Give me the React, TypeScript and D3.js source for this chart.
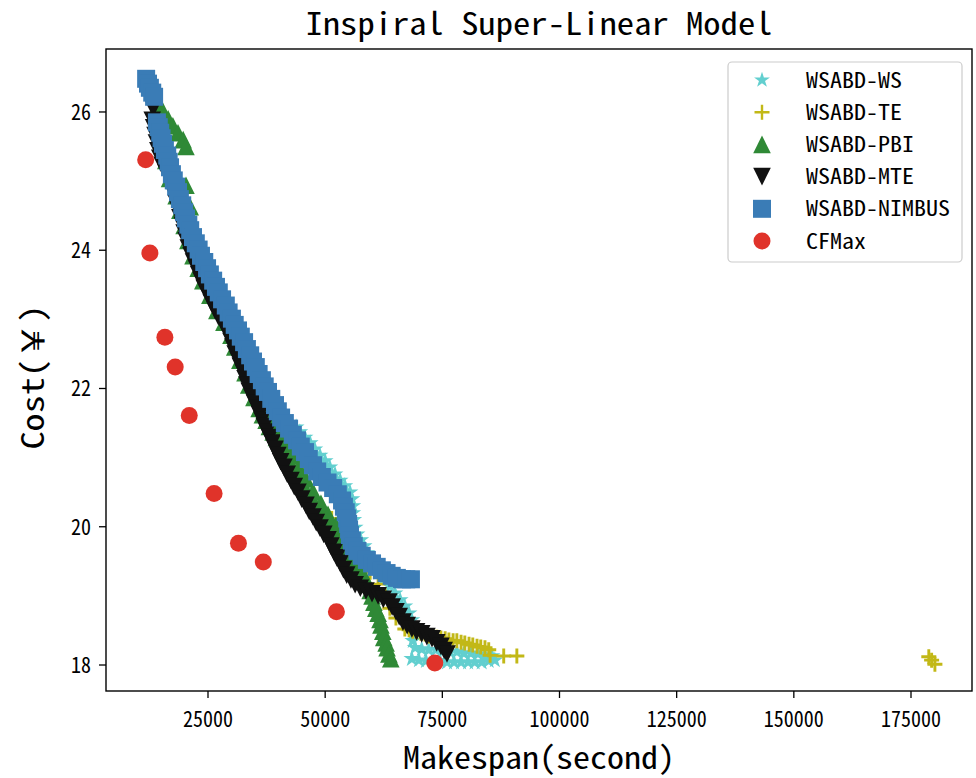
import React from 'react';
import * as d3 from 'd3';

const W = 976;
const H = 778;
const PLOT = { left: 106, right: 972, top: 49, bottom: 691 };

const xDomain: [number, number] = [3236, 188016];
const yDomain: [number, number] = [17.624, 26.911];
const xTicks = [25000, 50000, 75000, 100000, 125000, 150000, 175000];
const yTicks = [18, 20, 22, 24, 26];

const titleText = 'Inspiral Super-Linear Model';
const xLabel = 'Makespan(second)';
const yLabel = 'Cost(￥)';

const seriesNames = ['WSABD-WS', 'WSABD-TE', 'WSABD-PBI', 'WSABD-MTE', 'WSABD-NIMBUS', 'CFMax'];
const seriesColors = ['#62cfcf', '#c2b817', '#2f8936', '#111111', '#3a7cb6', '#e0332a'];

const wsPoints: [number, number][] = [
  [12600, 26.31], [14300, 25.88], [16000, 25.44], [18000, 25.01], [19700, 24.58], [21800, 24.14],
  [24400, 23.71], [27100, 23.27], [29900, 22.84], [32700, 22.41], [35700, 21.97], [38700, 21.61],
  [43800, 21.44], [44600, 21.37], [45700, 21.29], [46800, 21.21], [47800, 21.12], [48900, 21.03],
  [50000, 20.95], [51000, 20.86], [52100, 20.76], [53200, 20.67], [54200, 20.59], [55300, 20.50],
  [55700, 20.40], [55900, 20.30], [55900, 20.20], [56100, 20.10], [56400, 19.99], [56800, 19.89],
  [57600, 19.81], [58300, 19.72], [58900, 19.62], [59600, 19.53], [60200, 19.43], [61300, 19.34],
  [62500, 19.24], [63800, 19.14], [64900, 19.04], [66000, 18.94], [67000, 18.85], [67900, 18.75],
  [68500, 18.65], [68700, 18.55], [68700, 18.45], [68700, 18.35],
  [69200, 18.25], [70600, 18.23], [72100, 18.22], [73600, 18.22], [75100, 18.20], [76600, 18.19],
  [78100, 18.19], [79600, 18.17], [81100, 18.17], [82600, 18.16], [84100, 18.14], [85600, 18.13],
  [68500, 18.09], [70000, 18.07], [71500, 18.06], [73000, 18.06], [74500, 18.06], [76000, 18.04],
  [77500, 18.04], [79000, 18.04], [80500, 18.04], [81900, 18.04], [83400, 18.04], [84900, 18.06],
  [86200, 18.07],
];

const tePoints: [number, number][] = [
  [14100, 25.85], [15400, 25.54], [16900, 25.20], [18600, 24.84], [20300, 24.46], [22400, 24.10],
  [24800, 23.74], [27300, 23.39], [30100, 23.01], [32700, 22.67], [35200, 22.31], [37800, 21.95],
  [40600, 21.58], [44000, 21.25], [47400, 20.89], [51700, 20.56],
  [51400, 20.12], [53600, 19.92], [55700, 19.72], [57800, 19.52], [59600, 19.34], [61300, 19.17],
  [62800, 19.00], [63800, 18.82], [65100, 18.68],
  [67000, 18.52], [67900, 18.51], [68700, 18.49], [69600, 18.48], [70400, 18.46], [71300, 18.45],
  [72100, 18.42], [73000, 18.40], [73800, 18.40], [74700, 18.39], [75600, 18.38], [76400, 18.36],
  [77300, 18.35], [78100, 18.35], [79000, 18.33], [79800, 18.32], [80700, 18.30], [81500, 18.29],
  [82400, 18.27], [83200, 18.26], [84100, 18.25], [84900, 18.22], [85200, 18.14],
  [88100, 18.13], [90900, 18.13],
  [178800, 18.12], [179400, 18.07], [180100, 18.01],
];

const pbiPoints: [number, number][] = [
  [14300, 26.11], [15400, 26.01], [16500, 25.90], [17500, 25.80], [18600, 25.70], [19700, 25.60],
  [20300, 25.50], [20300, 24.94], [21200, 24.63],
  [16000, 25.30], [16800, 25.04], [18200, 24.79], [19000, 24.58], [19900, 24.36], [20700, 24.14],
  [21800, 23.92], [22900, 23.74], [23900, 23.56], [25400, 23.35], [26900, 23.13], [28400, 22.96],
  [29900, 22.77], [30700, 22.60], [31800, 22.41], [32900, 22.23], [33700, 22.05], [34800, 21.87],
  [35900, 21.71], [36600, 21.62], [37400, 21.54], [38100, 21.45], [38900, 21.37], [39600, 21.29],
  [40400, 21.21], [41000, 21.12], [41600, 21.03], [42300, 20.95], [43100, 20.86], [43800, 20.78],
  [44600, 20.69], [45300, 20.60], [46100, 20.51], [46900, 20.43], [47800, 20.34], [48500, 20.26],
  [49300, 20.18], [50100, 20.10], [51000, 20.02], [51700, 19.94], [52500, 19.86], [53300, 19.78],
  [54200, 19.71], [54900, 19.63], [55700, 19.56], [56400, 19.49], [57000, 19.42], [57800, 19.33],
  [58500, 19.26], [59100, 19.17], [59600, 19.08], [60000, 19.00], [60400, 18.91], [60800, 18.82],
  [61300, 18.75], [61700, 18.66], [61900, 18.58], [62300, 18.49], [62500, 18.40], [63000, 18.32],
  [63200, 18.25], [63600, 18.16], [64000, 18.09],
  [37200, 21.71], [38700, 21.54], [40200, 21.37], [41700, 21.21], [42900, 21.03], [44400, 20.86],
  [45900, 20.69], [47400, 20.51], [49100, 20.34], [50600, 20.18], [52300, 20.02], [53800, 19.86],
  [55500, 19.71],
];

const mtePoints: [number, number][] = [
  [13300, 26.05], [13100, 25.88], [13400, 25.77], [13700, 25.66], [14000, 25.55], [14300, 25.44],
  [14700, 25.33], [15200, 25.23], [16000, 25.12], [16900, 25.01], [17300, 24.90], [17800, 24.79],
  [18200, 24.68], [18600, 24.58], [19000, 24.47], [19500, 24.36], [19900, 24.25], [20300, 24.14],
  [20800, 24.03], [21400, 23.92], [21900, 23.83], [22500, 23.74], [23000, 23.65], [23500, 23.56],
  [24200, 23.45], [25000, 23.35], [25700, 23.24], [26500, 23.13], [27200, 23.04], [28000, 22.96],
  [28700, 22.86], [29500, 22.77], [29900, 22.68], [30300, 22.60], [30800, 22.50], [31400, 22.41],
  [31900, 22.32], [32500, 22.23], [32900, 22.14], [33300, 22.05], [33800, 21.96], [34400, 21.87],
  [34900, 21.79], [35500, 21.71], [36000, 21.62], [36500, 21.54], [37000, 21.45], [37600, 21.37],
  [38100, 21.29], [38700, 21.21], [39300, 21.12], [39900, 21.03], [40500, 20.94], [41200, 20.86],
  [41900, 20.76], [42700, 20.67], [43400, 20.58], [44200, 20.50], [45000, 20.40], [45900, 20.31],
  [46600, 20.22], [47400, 20.14], [48100, 20.06], [48900, 19.98], [49700, 19.89], [50600, 19.81],
  [51200, 19.72], [51900, 19.63], [52500, 19.55], [53200, 19.47], [53900, 19.38], [54600, 19.30],
  [55500, 19.23], [56400, 19.16], [57500, 19.11], [58700, 19.07], [60000, 19.03], [61300, 19.00],
  [62400, 18.95], [63600, 18.91], [64300, 18.84], [65100, 18.77], [65800, 18.70], [66600, 18.62],
  [67500, 18.57], [68500, 18.52], [69500, 18.48], [70600, 18.45], [71700, 18.41], [72800, 18.38],
  [73800, 18.32], [74700, 18.27], [75400, 18.21], [76000, 18.16],
];

const nimbusPoints: [number, number][] = [
  [11800, 26.48], [12200, 26.41], [12600, 26.35], [13100, 26.28], [13500, 26.22],
  [14100, 25.85], [14500, 25.78], [14800, 25.70], [15100, 25.62], [15400, 25.54], [15800, 25.45],
  [16300, 25.37], [16600, 25.28], [16900, 25.20], [17300, 25.10], [17700, 25.01], [18200, 24.92],
  [18600, 24.84], [19000, 24.74], [19500, 24.65], [19900, 24.55], [20300, 24.46], [20800, 24.37],
  [21200, 24.29], [21800, 24.19], [22400, 24.10], [23000, 24.01], [23500, 23.92], [24200, 23.83],
  [24800, 23.74], [25400, 23.65], [26100, 23.56], [26700, 23.47], [27300, 23.39], [28000, 23.29],
  [28800, 23.20], [29400, 23.10], [30100, 23.01], [30700, 22.92], [31400, 22.84], [32000, 22.75],
  [32700, 22.67], [33300, 22.57], [34000, 22.48], [34600, 22.39], [35200, 22.31], [35800, 22.21],
  [36500, 22.12], [37100, 22.03], [37800, 21.95], [38500, 21.85], [39300, 21.76], [39900, 21.67],
  [40600, 21.58], [41400, 21.50], [42300, 21.42], [43100, 21.33], [44000, 21.25], [44800, 21.16],
  [45700, 21.08], [46500, 20.98], [47400, 20.89], [48300, 20.80], [49300, 20.72], [50500, 20.64],
  [51700, 20.56], [52700, 20.47], [53600, 20.38], [54000, 20.29], [54400, 20.21], [54700, 20.12],
  [54900, 20.04], [55100, 19.96], [55300, 19.88], [55700, 19.80], [56100, 19.72], [56900, 19.65],
  [57800, 19.58], [58900, 19.52], [60000, 19.47], [61000, 19.42], [62100, 19.37], [63100, 19.33],
  [64200, 19.29], [65300, 19.26], [66400, 19.24], [67300, 19.24], [68300, 19.24],
];

const cfmaxPoints: [number, number][] = [
  [11700, 25.31], [12600, 23.96], [15800, 22.74], [18000, 22.31], [21000, 21.61],
  [26300, 20.48], [31500, 19.76], [36800, 19.49], [52400, 18.77], [73400, 18.03],
];

const FONT = "'Noto Sans Mono CJK SC','Noto Sans CJK SC','Noto Sans',sans-serif";

const starPath = d3.symbol(d3.symbolStar, 78)() as string;
const starPathPlot = d3.symbol(d3.symbolStar, 88)() as string;
const plusPath = 'M-7.5,0H7.5M0,-7.5V7.5';
const triUp = 'M0,-8.8L-8.8,8.8L8.8,8.8Z';
const triDown = 'M0,8.8L-8.8,-8.8L8.8,-8.8Z';
const squarePath = 'M-9,-9H9V9H-9Z';
const circlePath = d3.symbol(d3.symbolCircle, Math.PI * 8.5 * 8.5)() as string;

const markerPaths = [starPath, plusPath, triUp, triDown, squarePath, circlePath];
const allSeries = [wsPoints, tePoints, pbiPoints, mtePoints, nimbusPoints, cfmaxPoints];

function Marker({ idx, x, y, legend }: { idx: number; x: number; y: number; legend?: boolean }) {
  const color = seriesColors[idx];
  if (idx === 1) {
    return (
      <path
        d={plusPath}
        transform={`translate(${x},${y})`}
        fill="none"
        stroke={color}
        strokeWidth={legend ? 2.4 : 2.9}
      />
    );
  }
  const d = idx === 0 && !legend ? starPathPlot : markerPaths[idx];
  return <path d={d} transform={`translate(${x},${y})`} fill={color} stroke="none" />;
}

export default function App() {
  const x = d3.scaleLinear().domain(xDomain).range([PLOT.left, PLOT.right]);
  const y = d3.scaleLinear().domain(yDomain).range([PLOT.bottom, PLOT.top]);
  const legendY0 = 80;
  const legendStep = 32.2;

  return (
    <svg
      width={W}
      height={H}
      viewBox={`0 0 ${W} ${H}`}
      style={{ position: 'absolute', left: 0, top: 0, background: '#fff' }}
      fontFamily={FONT}
    >
      <rect x={0} y={0} width={W} height={H} fill="#fff" />
      <text x={539} y={35} textAnchor="middle" fontSize={31} textLength={467} lengthAdjust="spacingAndGlyphs" fill="#000">
        {titleText}
      </text>

      {allSeries.map((pts, si) => (
        <g key={si}>
          {pts.map((p, i) => (
            <Marker key={i} idx={si} x={x(p[0])} y={y(p[1])} />
          ))}
        </g>
      ))}

      <rect
        x={PLOT.left}
        y={PLOT.top}
        width={PLOT.right - PLOT.left}
        height={PLOT.bottom - PLOT.top}
        fill="none"
        stroke="#000"
        strokeWidth={1.4}
      />

      {xTicks.map((t) => (
        <g key={t}>
          <line x1={x(t)} x2={x(t)} y1={PLOT.bottom} y2={PLOT.bottom + 7} stroke="#000" strokeWidth={1.3} />
          <text
            x={x(t)}
            y={727}
            textAnchor="middle"
            fontSize={22}
            textLength={String(t).length * 10}
            lengthAdjust="spacingAndGlyphs"
            fill="#000"
          >
            {String(t)}
          </text>
        </g>
      ))}
      {yTicks.map((t) => (
        <g key={t}>
          <line x1={PLOT.left - 7} x2={PLOT.left} y1={y(t)} y2={y(t)} stroke="#000" strokeWidth={1.3} />
          <text
            x={91}
            y={y(t)}
            dy="0.36em"
            textAnchor="end"
            fontSize={22}
            textLength={String(t).length * 10}
            lengthAdjust="spacingAndGlyphs"
            fill="#000"
          >
            {String(t)}
          </text>
        </g>
      ))}

      <text x={539} y={769} textAnchor="middle" fontSize={31} textLength={272} lengthAdjust="spacingAndGlyphs" fill="#000">
        {xLabel}
      </text>
      <text
        transform="translate(44,377) rotate(-90)"
        textAnchor="middle"
        fontSize={31}
        textLength={145}
        lengthAdjust="spacingAndGlyphs"
        fill="#000"
      >
        {yLabel}
      </text>

      <rect x={728} y={62} width={234} height={200} rx={4} fill="#fff" fillOpacity={0.8} stroke="#cccccc" strokeWidth={1.2} />
      {seriesNames.map((name, i) => (
        <g key={name}>
          <Marker idx={i} x={762} y={legendY0 + i * legendStep} legend />
          <text
            x={806}
            y={legendY0 + i * legendStep}
            dy="0.36em"
            fontSize={21}
            textLength={name.length * 12}
            lengthAdjust="spacingAndGlyphs"
            fill="#000"
          >
            {name}
          </text>
        </g>
      ))}
    </svg>
  );
}
